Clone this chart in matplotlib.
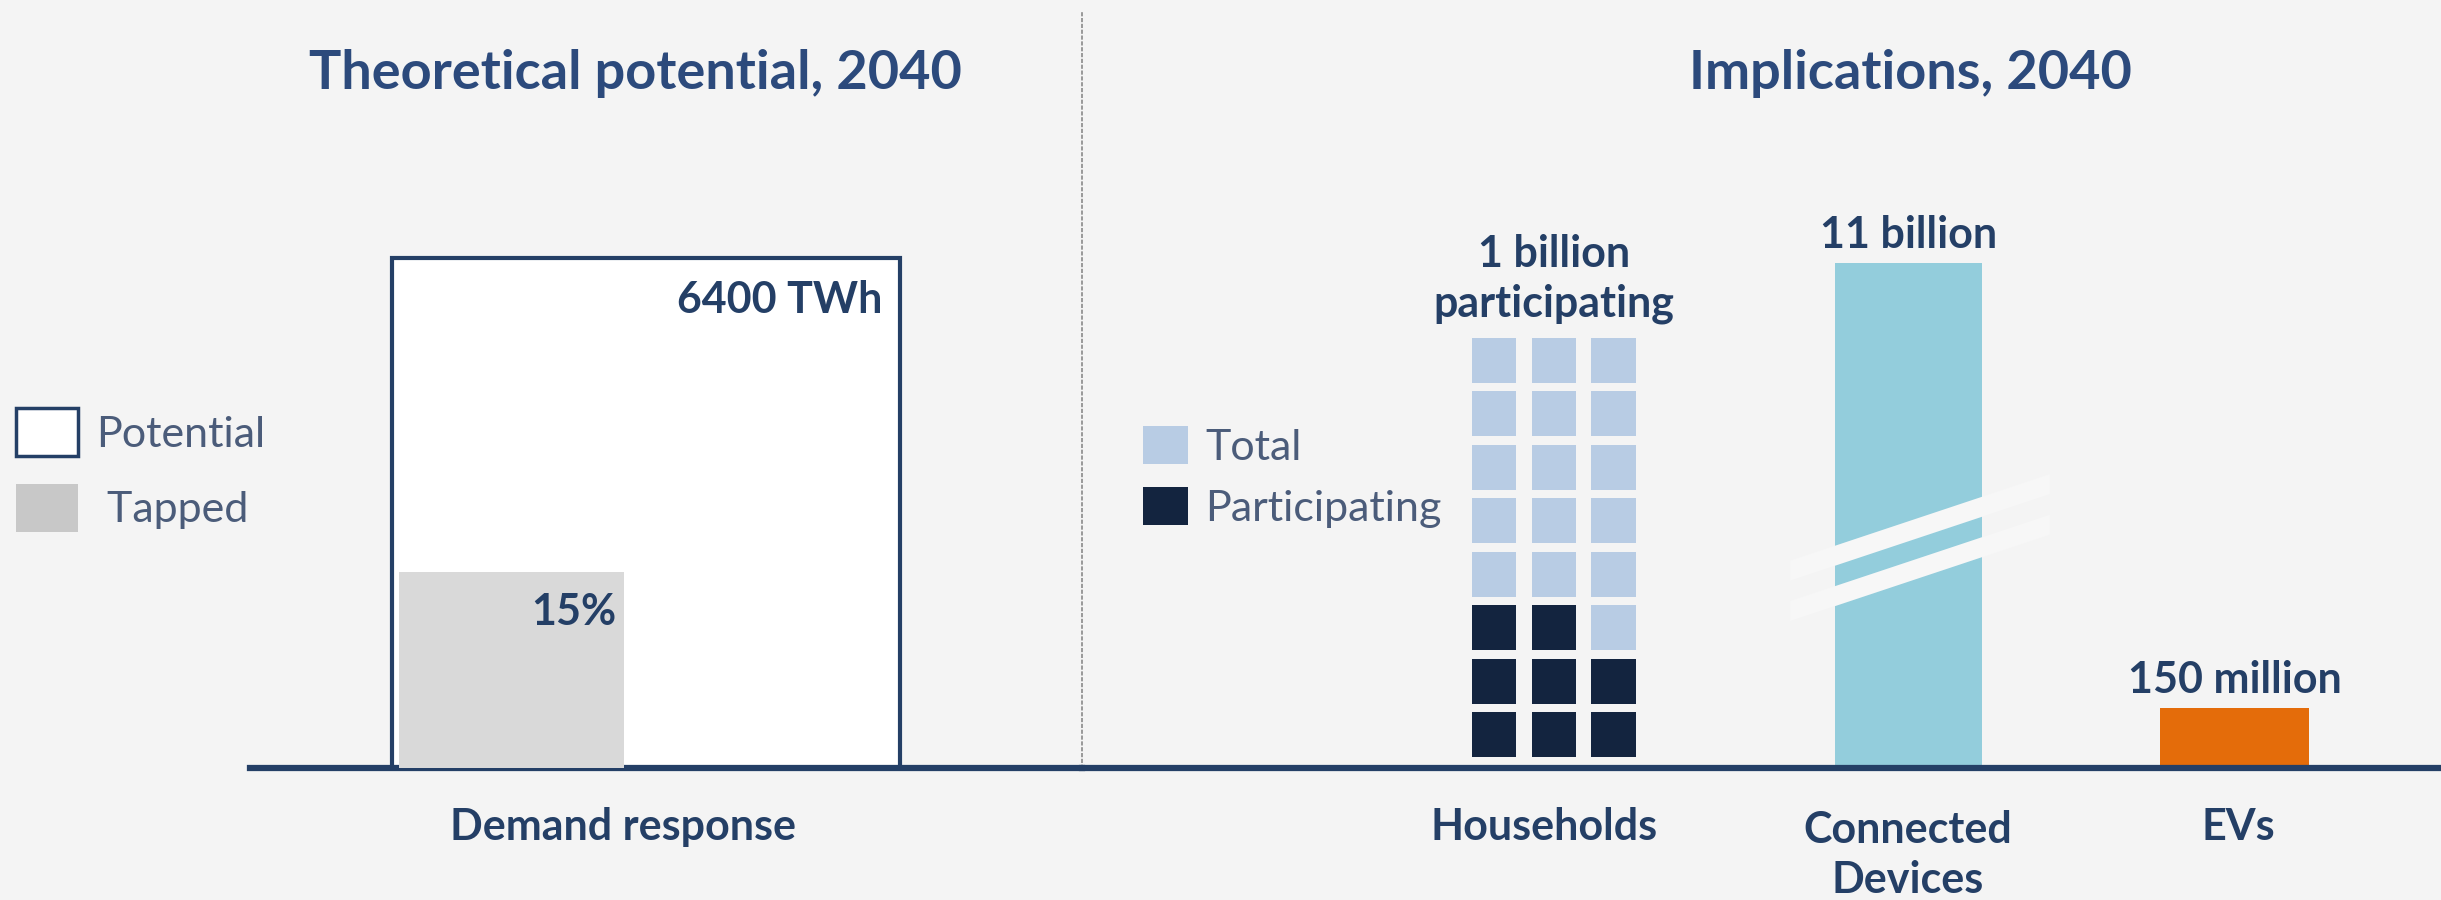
import numpy as np
import matplotlib.pyplot as plt
import matplotlib.transforms as mtransforms
from matplotlib.patches import Patch, Polygon

plt.rcParams['font.family'] = ['Lato', 'DejaVu Sans']

# ---- data ----
left_category = "Demand response"
potential_twh = 6400        # outlined bar
tapped_drawn = 2460         # grey bar height as drawn (same scale as potential)
potential_label = "6400 TWh"
tapped_label = "15%"

right_categories = ["Households", "Connected\nDevices", "EVs"]
household_cols = 3
household_rows = 8
household_participating = 8     # dark squares, filled from the bottom row up
household_label = "1 billion\nparticipating"
devices_drawn = 505             # schematic bar heights (devices bar is broken)
evs_drawn = 60
bar_labels = ["11 billion", "150 million"]

# ---- styling ----
BG = '#F4F4F4'
NAVY = '#243F66'
TITLE = '#2C4A7C'
LEGTXT = '#4B5C7A'
GREY_BAR = '#D9D9D9'
GREY_LEG = '#C8C8C8'
HH_TOTAL = '#B8CCE4'
HH_PART = '#13243F'
DEVICES = '#93CDDC'
EVS = '#E46C0A'

W, H = 2441, 900


def fx(px):
    return px / W


def fy(py):
    return 1 - py / H


fig = plt.figure(figsize=(W / 100, H / 100), dpi=100, facecolor=BG)

ax1 = fig.add_axes([fx(250), fy(768), fx(1082) - fx(250), fy(10) - fy(768)])
ax2 = fig.add_axes([fx(1082), fy(768), 1 - fx(1082), fy(10) - fy(768)])

for ax in (ax1, ax2):
    ax.set_facecolor('none')
    ax.set_xticks([])
    ax.set_yticks([])
    ax.spines['top'].set_visible(False)
    ax.spines['right'].set_visible(False)
    ax.spines['bottom'].set_color(NAVY)
    ax.spines['bottom'].set_linewidth(4.5)
ax1.spines['left'].set_visible(False)
ax2.spines['left'].set_color('#8A8A8A')
ax2.spines['left'].set_linewidth(1.2)
ax2.spines['left'].set_linestyle((0, (1.5, 2)))

# ---- left panel: theoretical potential ----
ymax_left = potential_twh * 758 / 510
ax1.set_xlim(-0.2795, 1.358)
ax1.set_ylim(0, ymax_left)
ax1.bar(0, potential_twh, width=1, align='edge', facecolor='white',
        edgecolor=NAVY, linewidth=3, zorder=2)
ax1.bar(0.014, tapped_drawn, width=0.443, align='edge', color=GREY_BAR,
        zorder=3)

lbl = dict(fontsize=31, fontweight='bold', color=NAVY)
ax1.annotate(potential_label, xy=(0.965, potential_twh), xytext=(0, -30),
             textcoords='offset points', ha='right', va='center', **lbl)
ax1.annotate(tapped_label, xy=(0.014 + 0.443 - 0.016, tapped_drawn),
             xytext=(0, -29), textcoords='offset points', ha='right',
             va='center', zorder=4, **lbl)

t1 = mtransforms.blended_transform_factory(ax1.transData, fig.transFigure)
ax1.text(0.455, fy(827), left_category, transform=t1, ha='center',
         va='center', **lbl)

# ---- right panel: implications ----
ax2.set_xlim(-1.386, 2.605)
ax2.set_ylim(0, 758)
pos = [0, 1.04, 2.0]

# households as a grid of squares
col_off = (np.arange(household_cols) - 1) * 0.175
sq_w, sq_h, pitch, base = 0.13, 45, 53.5, 11
for r in range(household_rows):
    idx = r * household_cols + np.arange(household_cols)
    colors = [HH_PART if i < household_participating else HH_TOTAL
              for i in idx]
    ax2.bar(pos[0] + col_off, [sq_h] * household_cols, width=sq_w,
            bottom=base + r * pitch, color=colors, zorder=2)
hh_top = base + (household_rows - 1) * pitch + sq_h
ax2.annotate(household_label, xy=(pos[0], hh_top), xytext=(0, 42),
             textcoords='offset points', ha='center', va='center',
             linespacing=1.3, **lbl)

ax2.bar(pos[1], devices_drawn, width=0.432, color=DEVICES, zorder=2)
ax2.bar(pos[2], evs_drawn, width=0.4375, color=EVS, zorder=2)
for x, h, s in zip(pos[1:], [devices_drawn, evs_drawn], bar_labels):
    ax2.annotate(s, xy=(x, h), xytext=(0, 20), textcoords='offset points',
                 ha='center', va='center', **lbl)

# axis-break marks across the devices bar
bw = 0.432
slope = 49 / bw      # rise (data units) per x unit across the bar
for frac in (0.42, 0.34):
    yc = devices_drawn * frac
    xl, xr = pos[1] - bw / 2 - 0.13, pos[1] + bw / 2 + 0.2
    yl = yc + slope * (-0.13)
    yr = yc + slope * (bw + 0.2)
    poly = Polygon([(xl, yl - 10), (xr, yr - 10), (xr, yr + 10), (xl, yl + 10)],
                   closed=True, facecolor='#F7F7F7', edgecolor='none', zorder=3)
    ax2.add_patch(poly)

t2 = mtransforms.blended_transform_factory(ax2.transData, fig.transFigure)
ax2.text(pos[0] - 0.03, fy(827), right_categories[0], transform=t2,
         ha='center', va='center', **lbl)
ax2.text(pos[1], fy(855), right_categories[1], transform=t2,
         ha='center', va='center', linespacing=1.3, **lbl)
ax2.text(pos[2] + 0.01, fy(827), right_categories[2], transform=t2,
         ha='center', va='center', **lbl)

# ---- titles ----
fig.text(fx(635), fy(73), "Theoretical potential, 2040", ha='center',
         va='center', fontsize=39, fontweight='bold', color=TITLE)
fig.text(fx(1910), fy(73), "Implications, 2040", ha='center',
         va='center', fontsize=39, fontweight='bold', color=TITLE)

# ---- legends ----
fig.legend(handles=[Patch(facecolor='white', edgecolor=NAVY, linewidth=2.5),
                    Patch(facecolor=GREY_LEG)],
           labels=['Potential', ' Tapped'], loc='upper left',
           bbox_to_anchor=(fx(16), fy(408)), frameon=False, fontsize=31,
           labelcolor=LEGTXT, handlelength=1.44, handleheight=1.35,
           labelspacing=0.64, handletextpad=0.42, borderpad=0,
           borderaxespad=0)
fig.legend(handles=[Patch(facecolor=HH_TOTAL), Patch(facecolor=HH_PART)],
           labels=['Total', 'Participating'], loc='upper left',
           bbox_to_anchor=(fx(1143), fy(426)), frameon=False, fontsize=31,
           labelcolor=LEGTXT, handlelength=1.05, handleheight=0.98,
           labelspacing=0.48, handletextpad=0.4, borderpad=0,
           borderaxespad=0)

fig.savefig('out.png', dpi=100, facecolor=BG)
